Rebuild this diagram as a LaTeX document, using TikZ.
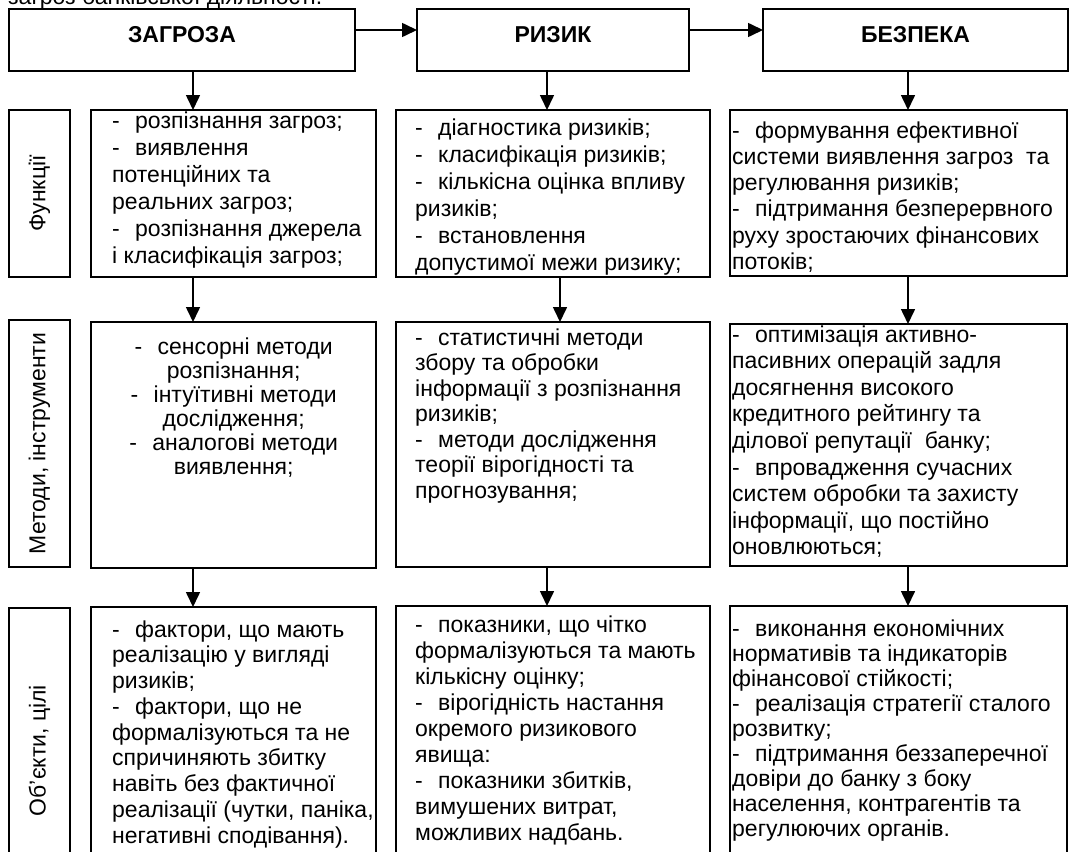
\documentclass[tikz,border=0pt]{standalone}
\usepackage{fontspec}
\setmainfont{Liberation Sans}
\usetikzlibrary{arrows.meta,calc}
\newcommand{\dsh}{\makebox[23pt][l]{-}}
\begin{document}
\begin{tikzpicture}[x=1pt,y=-1pt,
  box/.style={draw, line width=1.6pt, anchor=north west, inner sep=0pt, outer sep=0pt},
  arr/.style={-{Triangle[length=15pt,width=14pt]}, line width=1.6pt},
  txt/.style={anchor=base west, inner sep=0pt, font=\fontsize{23}{#1}\selectfont},
  head/.style={anchor=base, inner sep=0pt, font=\fontsize{23}{26}\selectfont\bfseries},
  lab/.style={rotate=90, inner sep=0pt, font=\fontsize{23}{26}\selectfont}
]
\useasboundingbox (0,0) rectangle (1070,851);
\clip (0,0) rectangle (1070,851);

\node[anchor=base west, inner sep=0pt, font=\fontsize{23}{26}\selectfont] (cap) at (8,5) {загроз банківської діяльності.};

% top row
\node[box, minimum width=346pt, minimum height=62pt] (zag) at (9,9) {};
\node[box, minimum width=272pt, minimum height=62pt] (riz) at (417,9) {};
\node[box, minimum width=305pt, minimum height=62pt] (bez) at (763,9) {};
\node[head] (zagT) at ($(zag.north)+(0,34)$) {ЗАГРОЗА};
\node[head] (rizT) at ($(riz.north)+(0,34)$) {РИЗИК};
\node[head] (bezT) at ($(bez.north)+(0,34)$) {БЕЗПЕКА};

% label boxes
\node[box, minimum width=61pt, minimum height=167pt] (l1) at (9,110) {};
\node[box, minimum width=61pt, minimum height=247pt] (l2) at (9,320) {};
\node[box, minimum width=61pt, minimum height=285pt] (l3) at (9,608) {};
\node[lab] (l1T) at (l1.center) {Функції};
\node[lab] (l2T) at (l2.center) {Методи, інструменти};
\node[lab] (l3T) at (l3.center) {Об’єкти, цілі};

% row 1
\node[box, minimum width=285pt, minimum height=167pt] (f1) at (91,110) {};
\node[box, minimum width=314pt, minimum height=167pt] (f2) at (396,110) {};
\node[box, minimum width=337pt, minimum height=166pt] (f3) at (730,110) {};
% row 2
\node[box, minimum width=285pt, minimum height=246pt] (m1) at (91,322) {};
\node[box, minimum width=314pt, minimum height=245pt] (m2) at (396,322) {};
\node[box, minimum width=337pt, minimum height=242pt] (m3) at (730,324) {};
% row 3
\node[box, minimum width=285pt, minimum height=285pt] (o1) at (91,607) {};
\node[box, minimum width=314pt, minimum height=285pt] (o2) at (396,606) {};
\node[box, minimum width=337pt, minimum height=285pt] (o3) at (730,606) {};

% texts row 1
\node[txt=27] (f1T) at (112,128) {\parbox[t]{300pt}{\raggedright
\dsh розпізнання загроз;\\
\dsh виявлення\\
потенційних та\\
реальних загроз;\\
\dsh розпізнання джерела\\
і класифікація загроз;}};
\node[txt=27] (f2T) at (415,135) {\parbox[t]{300pt}{\raggedright
\dsh діагностика ризиків;\\
\dsh класифікація ризиків;\\
\dsh кількісна оцінка впливу\\
ризиків;\\
\dsh встановлення\\
допустимої межи ризику;}};
\node[txt=26.3] (f3T) at (732,138) {\parbox[t]{335pt}{\raggedright
\dsh формування ефективної\\
системи виявлення загроз\ \ та\\
регулювання ризиків;\\
\dsh підтримання безперервного\\
руху зростаючих фінансових\\
потоків;}};

% texts row 2
\node[txt=24] (m1T) at (91,354) {\parbox[t]{285pt}{\centering
\dsh сенсорні методи\\
розпізнання;\\
\dsh інтуїтивні методи\\
дослідження;\\
\dsh аналогові методи\\
виявлення;}};
\node[txt=25.5] (m2T) at (415,345) {\parbox[t]{300pt}{\raggedright
\dsh статистичні методи\\
збору та обробки\\
інформації з розпізнання\\
ризиків;\\
\dsh методи дослідження\\
теорії вірогідності та\\
прогнозування;}};
\node[txt=26.6] (m3T) at (732,342) {\parbox[t]{335pt}{\raggedright
\dsh оптимізація активно-\\
пасивних операцій задля\\
досягнення високого\\
кредитного рейтингу та\\
ділової репутації\ \ банку;\\
\dsh впровадження сучасних\\
систем обробки та захисту\\
інформації, що постійно\\
оновлюються;}};

% texts row 3
\node[txt=25.75] (o1T) at (112,637) {\parbox[t]{300pt}{\raggedright
\dsh фактори, що мають\\
реалізацію у вигляді\\
ризиків;\\
\dsh фактори, що не\\
формалізуються та не\\
спричиняють збитку\\
навіть без фактичної\\
реалізації (чутки, паніка,\\
негативні сподівання).}};
\node[txt=26.1] (o2T) at (415,632) {\parbox[t]{300pt}{\raggedright
\dsh показники, що чітко\\
формалізуються та мають\\
кількісну оцінку;\\
\dsh вірогідність настання\\
окремого ризикового\\
явища:\\
\dsh показники збитків,\\
вимушених витрат,\\
можливих надбань.}};
\node[txt=25] (o3T) at (732,636) {\parbox[t]{335pt}{\raggedright
\dsh виконання економічних\\
нормативів та індикаторів\\
фінансової стійкості;\\
\dsh реалізація стратегії сталого\\
розвитку;\\
\dsh підтримання беззаперечної\\
довіри до банку з боку\\
населення, контрагентів та\\
регулюючих органів.}};

% connectors
\coordinate (yh) at (0,30);
\coordinate (c1) at (193,0);
\coordinate (c2a) at (547,0);
\coordinate (c2b) at (560,0);
\coordinate (c3) at (908,0);
\draw[arr] (zag.east |- yh) -- (riz.west |- yh);
\draw[arr] (riz.east |- yh) -- (bez.west |- yh);
\draw[arr] (zag.south -| c1) -- (f1.north -| c1);
\draw[arr] (riz.south -| c2a) -- (f2.north -| c2a);
\draw[arr] (bez.south -| c3) -- (f3.north -| c3);
\draw[arr] (f1.south -| c1) -- (m1.north -| c1);
\draw[arr] (f2.south -| c2b) -- (m2.north -| c2b);
\draw[arr] (f3.south -| c3) -- (m3.north -| c3);
\draw[arr] (m1.south -| c1) -- (o1.north -| c1);
\draw[arr] (m2.south -| c2a) -- (o2.north -| c2a);
\draw[arr] (m3.south -| c3) -- (o3.north -| c3);
\end{tikzpicture}
\end{document}
